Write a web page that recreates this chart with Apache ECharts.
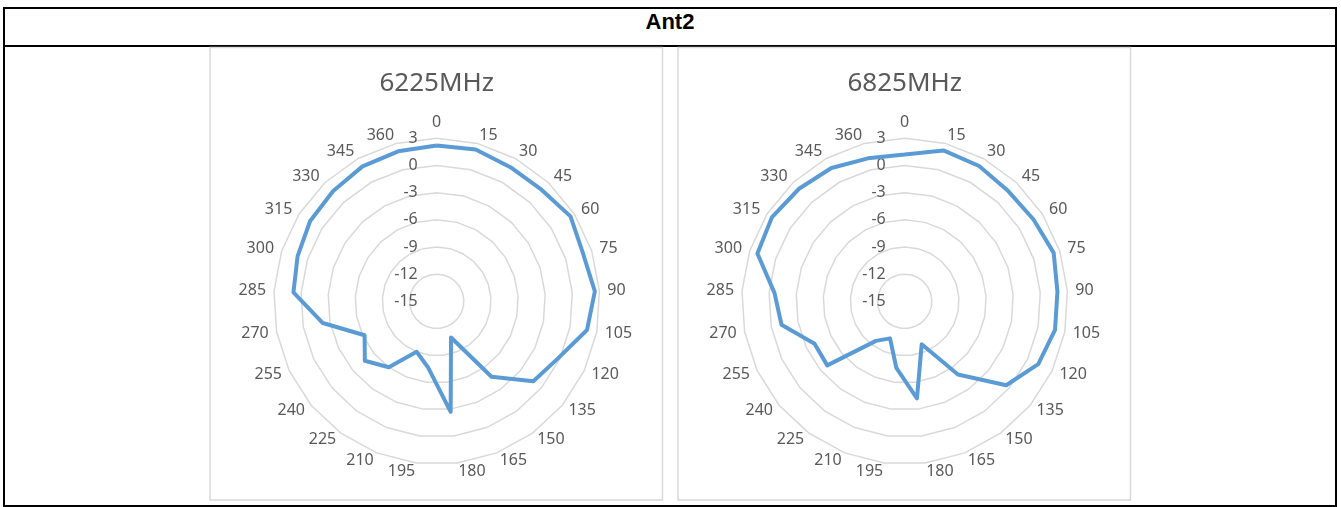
<!DOCTYPE html>
<html>
<head>
<meta charset="utf-8">
<script src="https://cdn.jsdelivr.net/npm/echarts@6/dist/echarts.min.js"></script>
<style>
  html, body { margin: 0; padding: 0; background: #fff; }
  #wrap { position: relative; width: 1341px; height: 507px; overflow: hidden; }
  .ln { position: absolute; background: #000; }
  #hdr { position: absolute; left: 5px; top: 9px; width: 1330px; height: 36px; line-height: 36px;
         text-align: center; font: bold 22px "Liberation Sans", Arial, sans-serif; color: #000; }
  #chart { position: absolute; left: 0; top: 0; width: 1341px; height: 507px; }
</style>
</head>
<body>
<div id="wrap">
  <div class="ln" style="left:3px;top:7px;width:1334px;height:2px"></div>
  <div class="ln" style="left:3px;top:45px;width:1334px;height:2px"></div>
  <div class="ln" style="left:3px;top:505px;width:1334px;height:2px"></div>
  <div class="ln" style="left:3px;top:7px;width:2px;height:500px"></div>
  <div class="ln" style="left:1335px;top:7px;width:2px;height:500px"></div>
  <div id="hdr">Ant2</div>
  <div id="chart"></div>
</div>
<script>
// ---- data ----
const tableTitle = 'Ant2';
const angles = [0, 15, 30, 45, 60, 75, 90, 105, 120, 135, 150, 165, 180, 195, 210, 225, 240, 255, 270, 285, 300, 315, 330, 345, 360];
const chartTitles = ['6225MHz', '6825MHz'];
const gain6225 = [2.2, 2.3, 1.9, 1.9, 2.5, 2.0, 2.5, 1.9, -0.2, -1.15, -4.7, -10.7, -2.7, -7.6, -9.0, -6.0, -4.7, -6.2, -2.2, 0.85, 1.15, 1.55, 1.7, 2.0, 2.1];
const gain6825 = [1.2, 2.2, 2.05, 1.7, 1.85, 2.3, 1.9, 1.9, 1.3, -0.45, -5.0, -9.9, -4.2, -7.6, -10.6, -9.6, -3.9, -4.0, -1.15, -0.6, 2.1, 2.35, 2.05, 1.8, 1.3];
const ringMin = -15, ringMax = 3, ringSplits = 6;

// ECharts radar runs counter-clockwise; reorder so angles go clockwise like the original
const order = [0].concat(angles.map((_, i) => i).slice(1).reverse());

const txt = '#595959';
const font = 'Noto Sans';
const centers = [[436.7, 301.3], [904.7, 301.3]];
const frames = [[210, 47.5, 452.5, 452.5], [678, 47.5, 452.5, 452.5]];

function indicators() {
  return order.map((k, j) => {
    const ind = { name: String(angles[k]), min: ringMin, max: ringMax };
    if (j === 0) {
      ind.axisLabel = { show: true, color: txt, fontFamily: font, fontSize: 16, margin: 19, align: 'right' };
    }
    return ind;
  });
}

const radars = centers.map(c => ({
  center: c,
  radius: 163,
  startAngle: 90,
  splitNumber: ringSplits,
  shape: 'polygon',
  indicator: indicators(),
  axisName: { color: txt, fontFamily: font, fontSize: 16 },
  nameGap: 8,
  axisLine: { show: false },
  axisTick: { show: false },
  axisLabel: { show: false },
  splitArea: { show: false },
  splitLine: { lineStyle: { color: '#d9d9d9', width: 1.5 } }
}));

const seriesData = [gain6225, gain6825];

const option = {
  animation: false,
  title: chartTitles.map((t, i) => ({
    text: t,
    left: centers[i][0] - 5,
    textAlign: 'center',
    top: 66,
    textStyle: { color: txt, fontFamily: font, fontSize: 26, fontWeight: 'normal' }
  })),
  graphic: frames.map(f => ({
    type: 'rect',
    shape: { x: f[0], y: f[1], width: f[2], height: f[3] },
    style: { fill: 'none', stroke: '#d9d9d9', lineWidth: 1.5 },
    silent: true
  })),
  radar: radars,
  series: seriesData.map((d, i) => ({
    type: 'radar',
    radarIndex: i,
    symbol: 'none',
    lineStyle: { color: '#5b9bd5', width: 4 },
    data: [{ value: order.map(k => d[k]), name: chartTitles[i] }]
  }))
};

const chart = echarts.init(document.getElementById('chart'), null, { renderer: 'canvas' });
chart.setOption(option);
</script>
</body>
</html>
